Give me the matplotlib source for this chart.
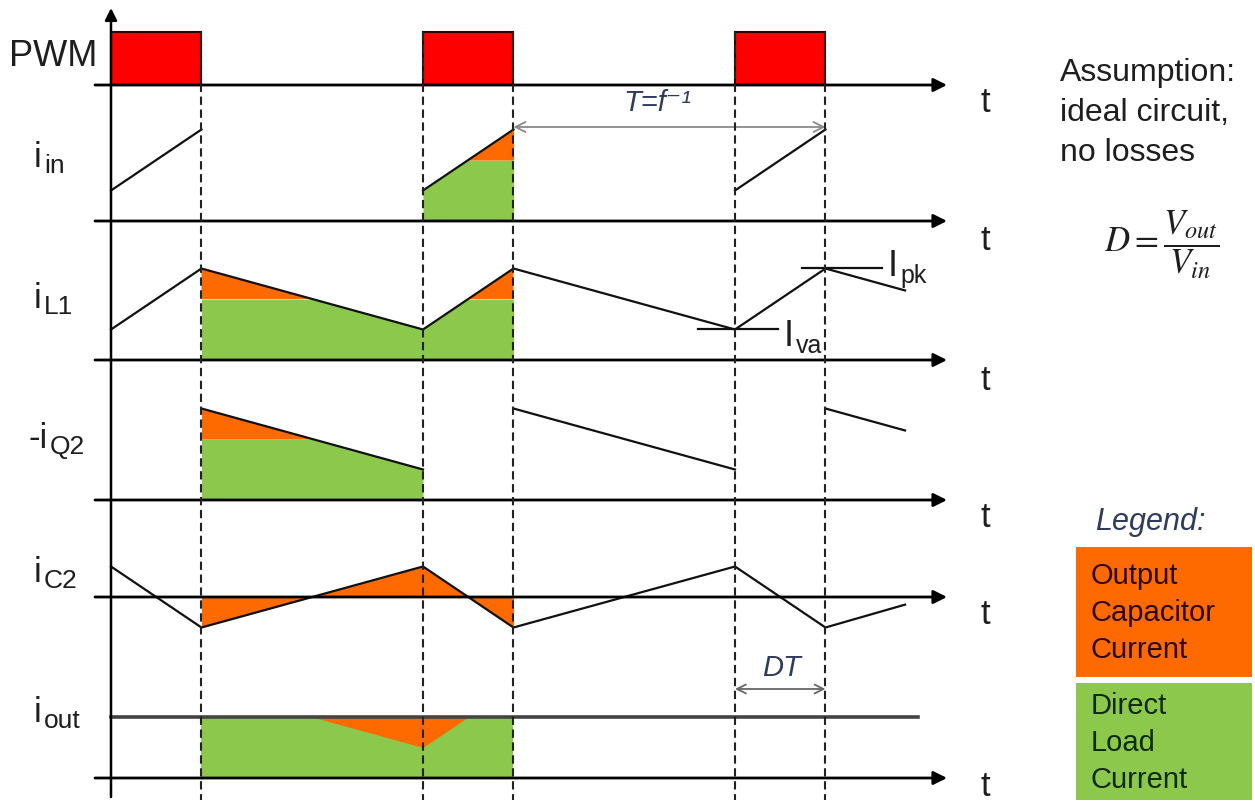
import matplotlib
matplotlib.use('Agg')
import matplotlib.pyplot as plt
import matplotlib.transforms as mtransforms
from matplotlib.patches import Rectangle
import numpy as np

plt.rcParams['font.family'] = ['Liberation Sans', 'DejaVu Sans']
plt.rcParams['mathtext.fontset'] = 'custom'
plt.rcParams['mathtext.rm'] = 'Liberation Sans'
plt.rcParams['mathtext.it'] = 'Liberation Sans:italic'

# ---------------- data (time in switching periods, currents in units) -------------
D = 0.29                      # duty cycle
pwm_on = [0.0, 1.0, 2.0]      # rising edges of the PWM signal
pwm_level = 1.0
I_VA, I_PK, I_OUT = 1.0, 3.0, 2.0

iin_t = [[0.0, 0.29], [1.0, 1.29], [2.0, 2.29]]
iin_v = [[1.0, 3.0], [1.0, 3.0], [1.0, 3.0]]

iL_t = [0.0, 0.29, 1.0, 1.29, 2.0, 2.29, 2.545]
iL_v = [1.0, 3.0, 1.0, 3.0, 1.0, 3.0, 2.28]

iQ2_t = [[0.29, 1.0], [1.29, 2.0], [2.29, 2.545]]
iQ2_v = [[3.0, 1.0], [3.0, 1.0], [3.0, 2.28]]

iC2_t = [0.0, 0.29, 1.0, 1.29, 2.0, 2.29, 2.545]
iC2_v = [1.0, -1.0, 1.0, -1.0, 1.0, -1.0, -0.25]

iout_t = [0.0, 2.587]
iout_v = [2.0, 2.0]

# highlighted cycle (with the points where i_L crosses I_out)
hl_t = [0.29, 0.645, 1.0, 1.145, 1.29]
hl_iL = [3.0, 2.0, 1.0, 2.0, 3.0]
hl_iC2 = [-1.0, 0.0, 1.0, 0.0, -1.0]
hl_iQ2_t = [0.29, 0.645, 1.0]
hl_iQ2_v = [3.0, 2.0, 1.0]
hl_iin_t = [1.0, 1.145, 1.29]
hl_iin_v = [1.0, 2.0, 3.0]

# panel labels: (prefix, main letter, subscript)
panel_labels = [('', 'i', 'in'), ('', 'i', 'L1'), ('-', 'i', 'Q2'),
                ('', 'i', 'C2'), ('', 'i', 'out')]

# ---------------- layout ----------------
W, H = 1255, 805
X0, TPX = 111, 312            # pixel of t=0 and pixels per period
bases = [85, 221, 360, 500, 597, 778]
scale = 30.5
pwm_scale = 53
label_base_y = [167, 308, 448, 582, 722]
t_label_y = [103, 240, 380, 517, 614, 786]

ORANGE = '#FF6A00'
GREEN = '#8CC84B'
RED = '#FF0000'
INK = '#1e1e1e'

fig = plt.figure(figsize=(W / 100, H / 100), dpi=100)
ax = fig.add_axes([0, 0, 1, 1])
ax.set_xlim((0 - X0) / TPX, (W - X0) / TPX)
ax.set_ylim(H, 0)
ax.set_autoscale_on(False)
ax.axis('off')


def ptr(base, s=scale):
    return mtransforms.Affine2D().scale(1, -s).translate(0, base) + ax.transData


def tx(xpx):
    return (xpx - X0) / TPX


px = mtransforms.Affine2D().scale(1 / W, -1 / H).translate(0, 1) + fig.transFigure


def sublabel(x, y, pre, main, sub, fs=25, sfs=19):
    t = ax.text(x, y, pre + main, transform=px, fontsize=fs, va='baseline',
                ha='left', color=INK)
    # the text box bottom already sits a descent below the baseline
    ax.annotate(sub, xy=(1, 0), xycoords=t, xytext=(1.5, 0.5),
                textcoords='offset points', fontsize=sfs, va='baseline',
                ha='left', color=INK)


# axes lines
t_start, t_end = tx(95), tx(947)
for b in bases:
    ax.annotate('', xy=(t_end, b), xytext=(t_start, b),
                arrowprops=dict(arrowstyle='-|>', color='black', lw=2.0,
                                mutation_scale=20, shrinkA=0, shrinkB=0), zorder=5)
ax.annotate('', xy=(0, 8), xytext=(0, 797),
            arrowprops=dict(arrowstyle='-|>', color='black', lw=1.8,
                            mutation_scale=18, shrinkA=0, shrinkB=0), zorder=5)

# dashed switching instants
ax.vlines([D, 1.0, 1.0 + D, 2.0, 2.0 + D], 32, 800, colors='#222222',
          linestyles=(0, (4, 2.2)), lw=1.5, zorder=6)

# PWM pulses
tp = ptr(bases[0], pwm_scale)
for t0 in pwm_on:
    ax.add_patch(Rectangle((t0, 0), D, pwm_level, facecolor=RED, edgecolor='#300000',
                           lw=1.5, transform=tp, zorder=4))

# i_in
tr = ptr(bases[1])
hv = np.array(hl_iin_v)
ax.fill_between(hl_iin_t, 0, np.minimum(hv, I_OUT), color=GREEN, lw=0, transform=tr, zorder=2)
ax.fill_between(hl_iin_t, I_OUT, hv, where=hv >= I_OUT, color=ORANGE, lw=0,
                transform=tr, zorder=2)
for ts, vs in zip(iin_t, iin_v):
    ax.plot(ts, vs, color='#111111', lw=1.6, transform=tr, zorder=4)

# i_L1
tr = ptr(bases[2])
hv = np.array(hl_iL)
ax.fill_between(hl_t, 0, np.minimum(hv, I_OUT), color=GREEN, lw=0, transform=tr, zorder=2)
ax.fill_between(hl_t, I_OUT, hv, where=hv >= I_OUT, color=ORANGE, lw=0,
                transform=tr, zorder=2)
ax.plot(iL_t, iL_v, color='#111111', lw=1.6, transform=tr, zorder=4)
ax.plot([tx(802), tx(882)], [I_PK, I_PK], color='#111111', lw=1.6, transform=tr, zorder=4)
ax.plot([tx(698), tx(778)], [I_VA, I_VA], color='#111111', lw=1.6, transform=tr, zorder=4)
sublabel(888, 276, '', 'I', 'pk', fs=26, sfs=18)
sublabel(784, 346, '', 'I', 'va', fs=26, sfs=18)

# -i_Q2
tr = ptr(bases[3])
hv = np.array(hl_iQ2_v)
ax.fill_between(hl_iQ2_t, 0, np.minimum(hv, I_OUT), color=GREEN, lw=0, transform=tr, zorder=2)
ax.fill_between(hl_iQ2_t, I_OUT, hv, where=hv >= I_OUT, color=ORANGE, lw=0,
                transform=tr, zorder=2)
for ts, vs in zip(iQ2_t, iQ2_v):
    ax.plot(ts, vs, color='#111111', lw=1.6, transform=tr, zorder=4)

# i_C2
tr = ptr(bases[4])
ax.fill_between(hl_t, 0, hl_iC2, color=ORANGE, lw=0, transform=tr, zorder=2)
ax.plot(iC2_t, iC2_v, color='#111111', lw=1.6, transform=tr, zorder=4)

# i_out
tr = ptr(bases[5])
hv = np.array(hl_iL)
ax.fill_between(hl_t, 0, I_OUT, color=GREEN, lw=0, transform=tr, zorder=2)
ax.fill_between(hl_t, hv, I_OUT, where=hv <= I_OUT, color=ORANGE, lw=0,
                transform=tr, zorder=3)
ax.plot(iout_t, iout_v, color='#444444', lw=2.6, transform=tr, zorder=4)

# panel labels and "t"
ax.text(9, 57, 'PWM', transform=px, fontsize=26, va='center', ha='left', color=INK)
for (pre, main, sub), ly in zip(panel_labels, label_base_y):
    sublabel(28 if pre else 34, ly, pre, main, sub)
for ly in t_label_y:
    ax.text(985, ly, 't', transform=px, fontsize=25, va='center', ha='center', color=INK)

# period and duty annotations
ax.annotate('', xy=(2.0 + D, 127), xytext=(1.0 + D, 127),
            arrowprops=dict(arrowstyle='<->', color='#8a8a8a', lw=1.3,
                            mutation_scale=18, shrinkA=0, shrinkB=0), zorder=5)
ax.text(657, 103, 'T=f⁻¹', transform=px, fontsize=21, style='italic',
        va='center', ha='center', color='#2E3B5E',
        family=['Liberation Sans', 'DejaVu Sans'])
ax.annotate('', xy=(2.0 + D, 689), xytext=(2.0, 689),
            arrowprops=dict(arrowstyle='<->', color='#666666', lw=1.3,
                            mutation_scale=16, shrinkA=0, shrinkB=0), zorder=5)
ax.text(781, 668, 'DT', transform=px, fontsize=21, style='italic',
        va='center', ha='center', color='#2E3B5E')

# right-hand notes
ax.text(1060, 113, 'Assumption:\nideal circuit,\nno losses', transform=px, fontsize=23,
        va='center', ha='left', color=INK, linespacing=1.45)
ax.text(1162, 245, r'$D=\dfrac{V_{out}}{V_{in}}$', transform=px, fontsize=25,
        va='center', ha='center', color=INK, math_fontfamily='stix')

# legend
ax.text(1150, 522, 'Legend:', transform=px, fontsize=22, style='italic',
        va='center', ha='center', color='#2E3B5E')
ax.add_patch(Rectangle((1076, 547), 176, 130, transform=px, facecolor=ORANGE,
                       edgecolor='none'))
ax.add_patch(Rectangle((1076, 683), 176, 117, transform=px, facecolor=GREEN,
                       edgecolor='none'))
ax.text(1091, 613, 'Output\nCapacitor\nCurrent', transform=px, fontsize=21,
        va='center', ha='left', color='#2a0800', linespacing=1.42)
ax.text(1091, 743, 'Direct\nLoad\nCurrent', transform=px, fontsize=21,
        va='center', ha='left', color='#0f2a00', linespacing=1.42)

fig.savefig('out.png', dpi=100)
